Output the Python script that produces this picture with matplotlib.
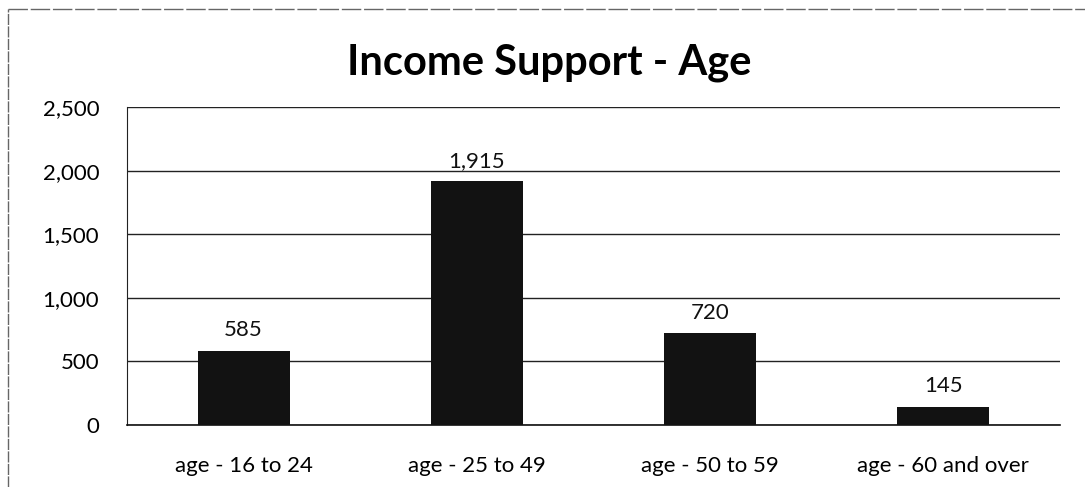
import numpy as np
import matplotlib.pyplot as plt

plt.rcParams['font.family'] = ['Lato', 'DejaVu Sans']

categories = ['age - 16 to 24', 'age - 25 to 49', 'age - 50 to 59', 'age - 60 and over']
counts = [585, 1915, 720, 145]
yticks = [0, 500, 1000, 1500, 2000, 2500]

fig = plt.figure(figsize=(10.85, 4.87), dpi=100)
ax = fig.add_axes([127/1085, 1 - 425/487, (1060-127)/1085, (425-107)/487])

x = np.arange(len(categories))
bars = ax.bar(x, counts, width=0.395, color='#121212', zorder=3)

for b, v in zip(bars, counts):
    ax.text(b.get_x() + b.get_width()/2, v + 80, '{:,}'.format(v),
            ha='center', va='bottom', fontsize=16, color='#111111')

ax.set_xlim(-0.5, len(categories) - 0.5)
ax.set_ylim(0, 2500)
ax.set_yticks(yticks)
ax.set_yticklabels(['{:,}'.format(t) for t in yticks], fontsize=16)
ax.set_xticks(x)
ax.set_xticklabels(categories, fontsize=16)
ax.tick_params(length=0, pad=20, axis='y')
ax.tick_params(length=0, pad=22, axis='x')

ax.grid(axis='y', color='#222222', linewidth=1.0, zorder=0)
for s in ['top', 'right']:
    ax.spines[s].set_visible(False)
ax.spines['left'].set_color('#222222')
ax.spines['bottom'].set_color('#111111')
ax.spines['bottom'].set_linewidth(1.2)

fig.text(549/1085, 1 - 63/487, 'Income Support - Age', ha='center', va='center',
         fontsize=30, fontweight='bold')

# outer chart frame (left and top edges only)
fig.add_artist(plt.Line2D([8/1085, 8/1085], [0, 1 - 9/487], transform=fig.transFigure,
                          color='#666666', linewidth=1.0, linestyle=(0, (8, 1))))
fig.add_artist(plt.Line2D([8/1085, 1], [1 - 9/487, 1 - 9/487], transform=fig.transFigure,
                          color='#666666', linewidth=1.0, linestyle=(0, (14, 2))))

plt.savefig('out.png', dpi=100)
